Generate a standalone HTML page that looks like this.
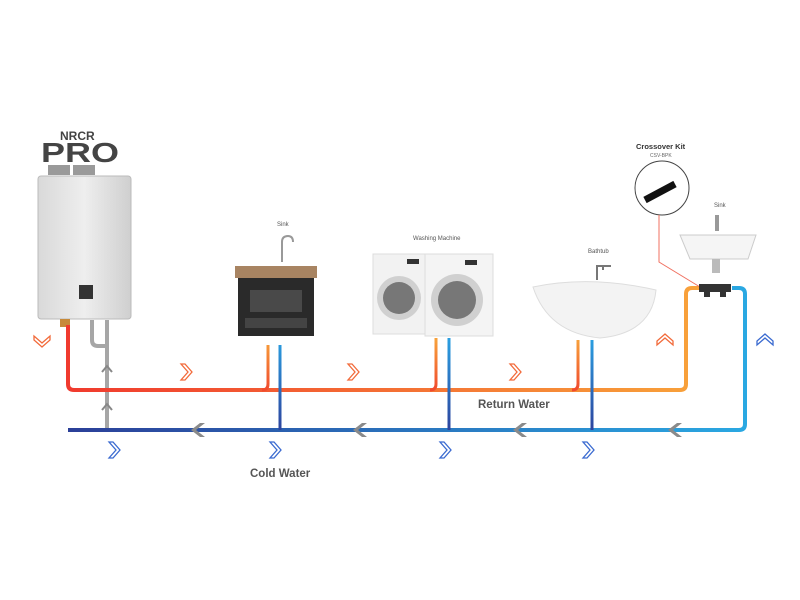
<!DOCTYPE html>
<html><head><meta charset="utf-8"><style>
html,body{margin:0;padding:0;background:#fff}
svg{display:block}
text{font-family:"Liberation Sans",sans-serif}
</style></head><body>
<svg width="800" height="600" viewBox="0 0 800 600" xmlns="http://www.w3.org/2000/svg">
<defs>
<linearGradient id="hot" x1="0" x2="1" y1="0" y2="0"><stop offset="0" stop-color="#f03a2e"/><stop offset="1" stop-color="#f8a23a"/></linearGradient>
<linearGradient id="cold" x1="0" x2="1" y1="0" y2="0"><stop offset="0" stop-color="#2b3f98"/><stop offset="1" stop-color="#2aa8e2"/></linearGradient>
<linearGradient id="vh" gradientUnits="userSpaceOnUse" x1="0" x2="0" y1="340" y2="390"><stop offset="0" stop-color="#f7a03a"/><stop offset="1" stop-color="#f04a2e"/></linearGradient>
<linearGradient id="vc" gradientUnits="userSpaceOnUse" x1="0" x2="0" y1="340" y2="430"><stop offset="0" stop-color="#2a9ee0"/><stop offset="1" stop-color="#2d449e"/></linearGradient>
<linearGradient id="heat" x1="0" x2="1"><stop offset="0" stop-color="#d9d9d9"/><stop offset="0.5" stop-color="#eeeeee"/><stop offset="1" stop-color="#cfcfcf"/></linearGradient>
</defs>

<!-- heater logo -->
<text x="60" y="140" font-size="12" font-weight="bold" fill="#444">NRCR</text>
<text x="41" y="162" font-size="28" font-weight="900" fill="#444" textLength="78" lengthAdjust="spacingAndGlyphs">PRO</text>
<!-- heater -->
<rect x="48" y="165" width="22" height="10" fill="#9a9a9a"/><rect x="73" y="165" width="22" height="10" fill="#9a9a9a"/>
<rect x="38" y="176" width="93" height="143" rx="3" fill="url(#heat)" stroke="#bbb"/>
<rect x="79" y="285" width="14" height="14" fill="#333"/>
<rect x="60" y="319" width="10" height="8" fill="#c78a3a"/>

<!-- gray pipe -->
<path d="M92 320 V340 Q92 346 98 346 H107 M107 320 V430" fill="none" stroke="#a6a6a6" stroke-width="4"/>
<path d="M102 372 l5 -6 5 6 M102 410 l5 -6 5 6" fill="none" stroke="#888" stroke-width="2"/>

<!-- hot main -->
<path d="M68 325 V384 Q68 390 74 390 H680 Q686 390 686 384 V294 Q686 288 692 288 H700" fill="none" stroke="url(#hot)" stroke-width="4"/>
<!-- cold main -->
<path d="M68 430 H739 Q745 430 745 424 V294 Q745 288 739 288 H732" fill="none" stroke="url(#cold)" stroke-width="4"/>

<!-- branches -->
<g fill="none" stroke-width="3">
<path d="M268 345 V384 Q268 390 262 390" stroke="url(#vh)"/>
<path d="M280 345 V430" stroke="url(#vc)"/>
<path d="M436 338 V384 Q436 390 430 390" stroke="url(#vh)"/>
<path d="M449 338 V430" stroke="url(#vc)"/>
<path d="M578 340 V384 Q578 390 572 390" stroke="url(#vh)"/>
<path d="M592 340 V430" stroke="url(#vc)"/>
</g>

<!-- gray left arrows -->
<g fill="#8a8a8a">
<path d="M200 423 l-9 7 9 7 h5 l-9 -7 9 -7z"/>
<path d="M362 423 l-9 7 9 7 h5 l-9 -7 9 -7z"/>
<path d="M522 423 l-9 7 9 7 h5 l-9 -7 9 -7z"/>
<path d="M677 423 l-9 7 9 7 h5 l-9 -7 9 -7z"/>
</g>
<!-- orange chevrons -->
<g fill="none" stroke="#f26a3a" stroke-width="1.3">
<path d="M181 364 h4 l7 8 -7 8 h-4 l7 -8z"/>
<path d="M348 364 h4 l7 8 -7 8 h-4 l7 -8z"/>
<path d="M510 364 h4 l7 8 -7 8 h-4 l7 -8z"/>
<path d="M34 336 v4 l8 7 8 -7 v-4 l-8 7z"/>
<path d="M657 345 v-4 l8 -7 8 7 v4 l-8 -7z"/>
</g>
<g fill="none" stroke="#3a6ad0" stroke-width="1.3">
<path d="M109 442 h4 l7 8 -7 8 h-4 l7 -8z"/>
<path d="M270 442 h4 l7 8 -7 8 h-4 l7 -8z"/>
<path d="M440 442 h4 l7 8 -7 8 h-4 l7 -8z"/>
<path d="M583 442 h4 l7 8 -7 8 h-4 l7 -8z"/>
<path d="M757 345 v-4 l8 -7 8 7 v4 l-8 -7z"/>
</g>

<text x="478" y="408" font-size="11.5" font-weight="bold" fill="#555">Return Water</text>
<text x="250" y="477" font-size="11.5" font-weight="bold" fill="#555">Cold Water</text>

<!-- sink vanity -->
<text x="277" y="226" font-size="6" fill="#555">Sink</text>
<path d="M282 262 v-20 q0 -6 6 -6 q5 0 5 6" fill="none" stroke="#999" stroke-width="2"/>
<rect x="235" y="266" width="82" height="12" fill="#a88462"/>
<rect x="238" y="278" width="76" height="58" fill="#2a2a2a"/>
<rect x="250" y="290" width="52" height="22" fill="#fff" opacity="0.15"/>
<rect x="245" y="318" width="62" height="10" fill="#444"/>
<!-- washer -->
<text x="413" y="240" font-size="6" fill="#555">Washing Machine</text>
<rect x="373" y="254" width="52" height="80" fill="#f2f2f2" stroke="#ddd"/>
<rect x="425" y="254" width="68" height="82" fill="#f4f4f4" stroke="#ddd"/>
<circle cx="399" cy="298" r="22" fill="#d0d0d0"/><circle cx="399" cy="298" r="16" fill="#777"/>
<circle cx="457" cy="300" r="26" fill="#d0d0d0"/><circle cx="457" cy="300" r="19" fill="#777"/>
<rect x="407" y="259" width="12" height="5" fill="#333"/><rect x="465" y="260" width="12" height="5" fill="#333"/>
<!-- bathtub -->
<text x="588" y="253" font-size="6" fill="#555">Bathtub</text>
<path d="M533 287 Q590 275 656 290 Q652 333 600 338 Q548 333 533 287z" fill="#f3f3f3" stroke="#ddd"/>
<path d="M597 280 v-14 h14 M603 270 v-4" stroke="#777" stroke-width="2" fill="none"/>
<!-- right sink -->
<text x="714" y="207" font-size="6" fill="#555">Sink</text>
<path d="M680 235 h76 l-8 24 h-58z" fill="#f5f5f5" stroke="#ccc"/>
<rect x="715" y="215" width="4" height="16" fill="#999"/>
<rect x="712" y="259" width="8" height="14" fill="#bbb"/>
<!-- crossover -->
<text x="636" y="149" font-size="7.5" font-weight="bold" fill="#333">Crossover Kit</text>
<text x="650" y="157" font-size="5" fill="#666">CSV-BPK</text>
<circle cx="662" cy="188" r="27" fill="#fff" stroke="#444" stroke-width="1"/>
<path d="M645 200 l30 -16" stroke="#111" stroke-width="7"/>
<path d="M659 215 V262 L700 287" fill="none" stroke="#f07060" stroke-width="1"/>
<rect x="699" y="284" width="32" height="8" fill="#333"/>
<rect x="704" y="291" width="6" height="6" fill="#333"/><rect x="720" y="291" width="6" height="6" fill="#333"/>
</svg>
</body></html>
